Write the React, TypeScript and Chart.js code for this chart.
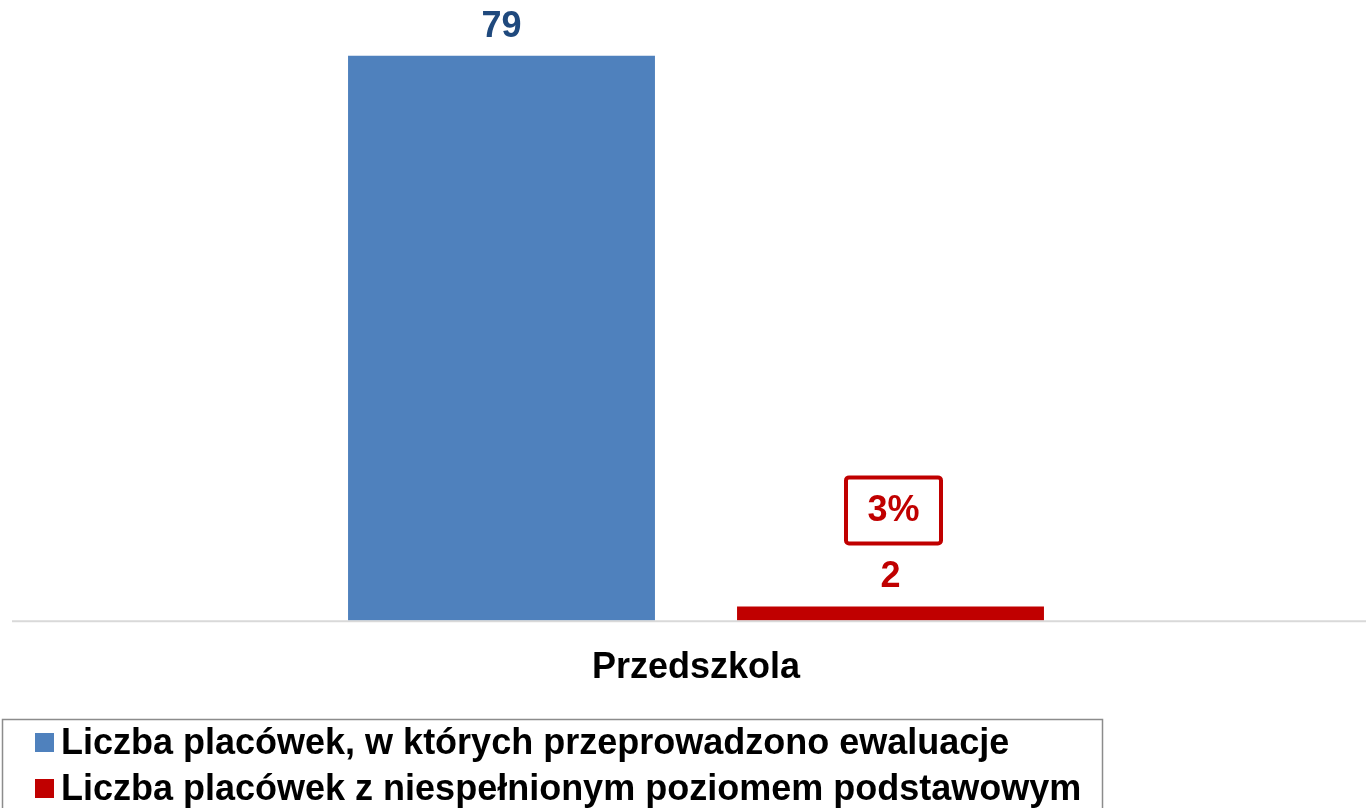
import React, { useEffect, useRef } from "react";
import { Chart, registerables } from "chart.js";

Chart.register(...registerables);

// ---- data ----
const categories = ["Przedszkola"];
const seriesNames = [
  "Liczba placówek, w których przeprowadzono ewaluacje",
  "Liczba placówek z niespełnionym poziomem podstawowym",
];
const evaluatedValues = [79];
const failingValues = [2];
const seriesColors = ["#4F81BD", "#C00000"];
const labelColors = ["#1F497D", "#C00000"];
const yMax = 86.8;

const FONT = "'Liberation Sans', Arial, Helvetica, sans-serif";

const valueLabelPlugin = {
  id: "valueLabels",
  afterDatasetsDraw(chart: any) {
    const ctx = chart.ctx;
    ctx.save();
    ctx.font = `bold 36px ${FONT}`;
    ctx.textAlign = "center";
    ctx.textBaseline = "alphabetic";
    chart.data.datasets.forEach((ds: any, di: number) => {
      const meta = chart.getDatasetMeta(di);
      meta.data.forEach((el: any, i: number) => {
        const v = ds.data[i];
        ctx.fillStyle = labelColors[di];
        ctx.fillText(String(v), el.x, el.y - 19);
        if (di === 1) {
          const total = chart.data.datasets[0].data[i];
          const pct = Math.round((v / total) * 100) + "%";
          const cy = el.y - 96;
          const w = 95;
          const h = 66;
          ctx.strokeStyle = labelColors[1];
          ctx.lineWidth = 4;
          ctx.beginPath();
          if (ctx.roundRect) ctx.roundRect(el.x + 3 - w / 2, cy - h / 2, w, h, 3);
          else ctx.rect(el.x + 3 - w / 2, cy - h / 2, w, h);
          ctx.stroke();
          ctx.textBaseline = "middle";
          ctx.fillText(pct, el.x + 3, cy + 1);
          ctx.textBaseline = "alphabetic";
        }
      });
    });
    ctx.restore();
  },
};

const baselinePlugin = {
  id: "baseline",
  afterDatasetsDraw(chart: any) {
    const ctx = chart.ctx;
    const { bottom, right } = chart.chartArea;
    ctx.save();
    ctx.strokeStyle = "#D9D9D9";
    ctx.lineWidth = 2;
    ctx.beginPath();
    ctx.moveTo(12, bottom + 0.5);
    ctx.lineTo(right, bottom + 0.5);
    ctx.stroke();
    ctx.restore();
  },
};

const legendPlugin = {
  id: "boxLegend",
  afterDraw(chart: any) {
    const ctx = chart.ctx;
    ctx.save();
    ctx.strokeStyle = "#8C8C8C";
    ctx.lineWidth = 1.5;
    ctx.strokeRect(2.5, 719.5, 1100, 120);
    ctx.font = `bold 36px ${FONT}`;
    ctx.textAlign = "left";
    ctx.textBaseline = "alphabetic";
    chart.data.datasets.forEach((ds: any, i: number) => {
      const base = 754 + i * 46;
      ctx.fillStyle = ds.backgroundColor;
      ctx.fillRect(35, base - 21, 19, 19);
      ctx.fillStyle = "#000000";
      ctx.fillText(ds.label, 61, base);
    });
    ctx.restore();
  },
};

export default function App() {
  const canvasRef = useRef<HTMLCanvasElement | null>(null);

  useEffect(() => {
    if (!canvasRef.current) return;
    const chart = new Chart(canvasRef.current, {
      type: "bar",
      data: {
        labels: categories,
        datasets: [
          {
            label: seriesNames[0],
            data: evaluatedValues,
            backgroundColor: seriesColors[0],
            categoryPercentage: 0.5806,
            barPercentage: 0.789,
          },
          {
            label: seriesNames[1],
            data: failingValues,
            backgroundColor: seriesColors[1],
            categoryPercentage: 0.5806,
            barPercentage: 0.789,
          },
        ],
      },
      options: {
        responsive: false,
        animation: false,
        devicePixelRatio: 1,
        layout: { padding: { left: 26, right: 0, top: 0, bottom: 92.1 } },
        plugins: {
          legend: { display: false },
          tooltip: { enabled: false },
          title: { display: false },
        },
        scales: {
          x: {
            grid: { display: false, drawTicks: false },
            border: { display: false },
            ticks: {
              color: "#000000",
              padding: 26,
              font: { family: FONT, size: 36, weight: "bold" },
            },
          },
          y: {
            display: false,
            min: 0,
            max: yMax,
          },
        },
      },
      plugins: [baselinePlugin, valueLabelPlugin, legendPlugin],
    });
    return () => chart.destroy();
  }, []);

  return (
    <div style={{ position: "fixed", left: 0, top: 0, width: 1366, height: 808, background: "#ffffff" }}>
      <canvas ref={canvasRef} width={1366} height={808} style={{ display: "block" }} />
    </div>
  );
}
